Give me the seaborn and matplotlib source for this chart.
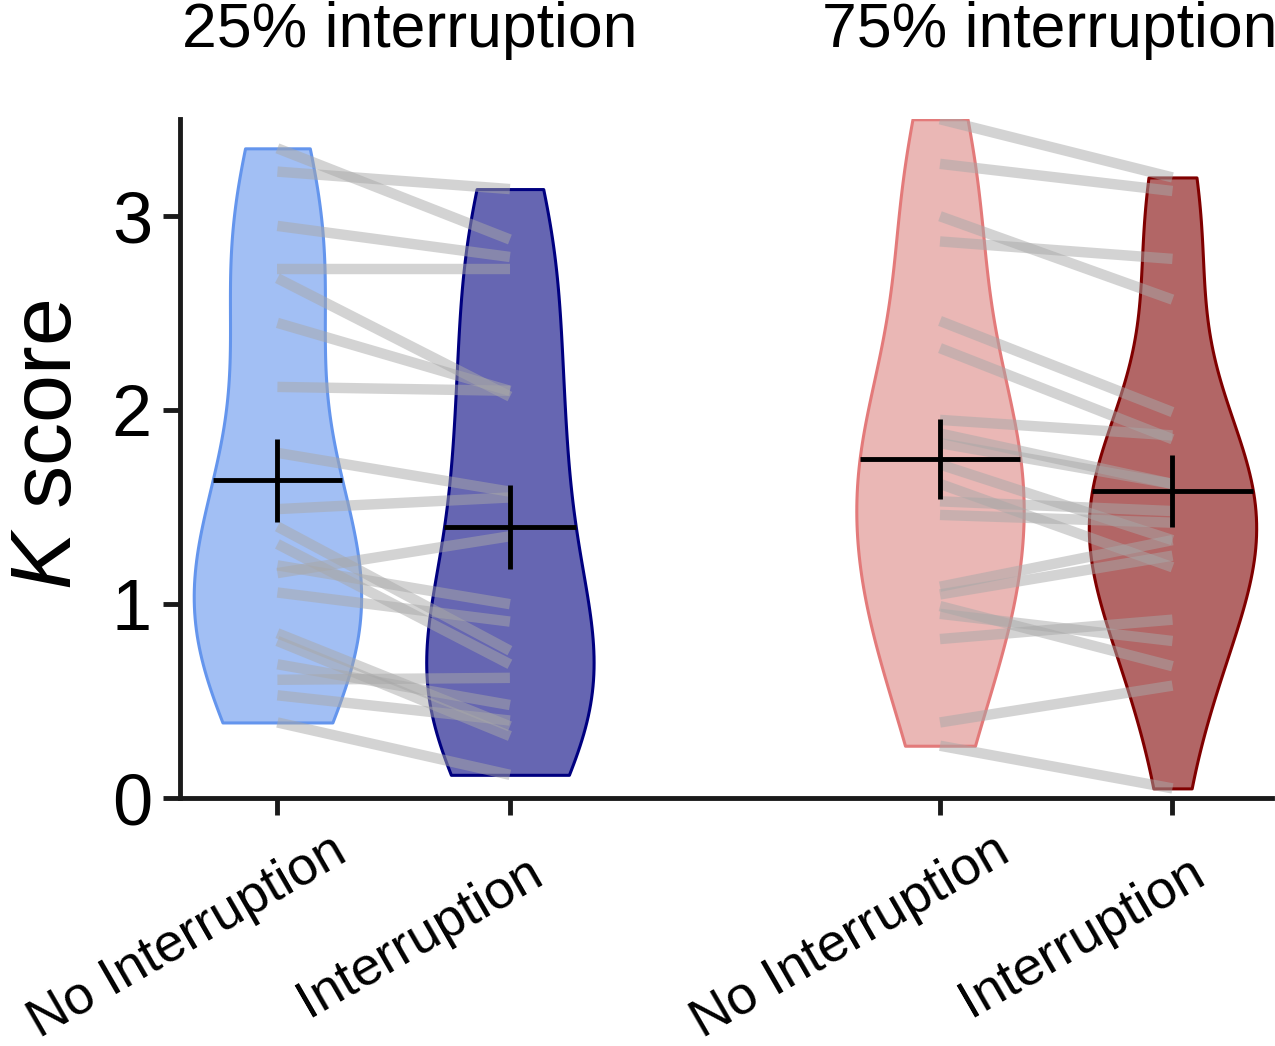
import numpy as np
import pandas as pd
import matplotlib
matplotlib.use("Agg")
import matplotlib.pyplot as plt
import matplotlib.transforms as mtransforms
from matplotlib.colors import to_rgba
import seaborn as sns

# values (K score per participant, paired)
no_int_25 = [3.35, 3.23, 2.95, 2.73, 2.68, 2.45, 2.12, 1.78, 1.49, 1.40,
             1.31, 1.20, 1.16, 1.06, 0.85, 0.81, 0.69, 0.61, 0.53, 0.39]
int_25 = [2.88, 3.14, 2.79, 2.73, 2.07, 2.10, 2.10, 1.58, 1.55, 0.76,
          0.69, 1.00, 1.35, 0.91, 0.37, 0.32, 0.48, 0.62, 0.40, 0.12]
no_int_75 = [3.50, 3.27, 3.00, 2.87, 2.46, 2.32, 1.95, 1.88, 1.83, 1.72,
             1.62, 1.53, 1.46, 1.09, 1.05, 0.99, 0.95, 0.82, 0.39, 0.27]
int_75 = [3.20, 3.13, 2.57, 2.78, 1.99, 1.85, 1.87, 1.62, 1.62, 1.33,
          1.19, 1.48, 1.42, 1.33, 1.25, 0.68, 0.81, 0.92, 0.58, 0.05]

conditions = ["No Interruption", "Interruption", "No Interruption", "Interruption"]
group_titles = ["25% interruption", "75% interruption"]
positions = [0, 1, 2.85, 3.85]
face_colors = ["#6495ED", "#000080", "#DC8785", "#800000"]
edge_colors = ["#6495ED", "#000080", "#E37A7A", "#800000"]

# long-form table
rows = []
for k, vals in enumerate([no_int_25, int_25, no_int_75, int_75]):
    grp = k // 2
    for s, v in enumerate(vals):
        rows.append({"group": grp, "subject": grp * 100 + s,
                     "pos": positions[k], "score": v})
df = pd.DataFrame(rows)

plt.rcParams["font.family"] = ["Liberation Sans", "DejaVu Sans"]
plt.rcParams["mathtext.fontset"] = "custom"
plt.rcParams["mathtext.rm"] = "Liberation Sans"
plt.rcParams["mathtext.it"] = "Liberation Sans:italic"

fig = plt.figure(figsize=(12.75, 10.46), dpi=100)
ax = fig.add_axes([0.141, 0.237, 0.857, 0.649])

# violins, one per condition so each gets its own edge colour
for k, p in enumerate(positions):
    sub = df[df["pos"] == p]
    sns.violinplot(x=sub["pos"], y=sub["score"], native_scale=True, cut=0,
                   inner=None, density_norm="width", width=0.72,
                   color=face_colors[k], linecolor=edge_colors[k],
                   linewidth=2.2, saturation=1, ax=ax)
    coll = ax.collections[-1]
    coll.set_facecolor(to_rgba(face_colors[k], 0.6))
    coll.set_edgecolor(edge_colors[k])

violin_polys = ax.collections[:4]

# paired lines
for g in [0, 1]:
    sns.lineplot(data=df[df["group"] == g], x="pos", y="score", units="subject",
                 estimator=None, sort=False, color="#a8a8a8", alpha=0.5,
                 lw=7.5, solid_capstyle="butt", legend=False, ax=ax, zorder=3)

# mean +/- SEM cross, horizontal bar spans the violin width at the mean
for k, p in enumerate(positions):
    vals = np.asarray(df.loc[df["pos"] == p, "score"])
    m = vals.mean()
    se = vals.std(ddof=1) / np.sqrt(len(vals))
    verts = violin_polys[k].get_paths()[0].vertices
    right = verts[verts[:, 0] > p + 1e-9]
    order = np.argsort(right[:, 1])
    half = np.interp(m, right[order, 1], right[order, 0]) - p
    ax.errorbar(p, m, xerr=half, yerr=se, fmt="none", ecolor="black",
                elinewidth=3.5, capsize=0, zorder=6)

ax.set_xlim(-0.42, 4.28)
ax.set_ylim(0, 3.5)
ax.set_yticks([0, 1, 2, 3])
ax.set_yticklabels(["0", "1", "2", "3"], fontsize=52)
ax.set_xticks(positions)

ax.tick_params(axis="both", length=12, width=3.5, color="#1a1a1a")
ax.tick_params(axis="x", pad=0)
ax.tick_params(axis="y", pad=8)
for side in ["top", "right"]:
    ax.spines[side].set_visible(False)
for side in ["left", "bottom"]:
    ax.spines[side].set_linewidth(3.5)
    ax.spines[side].set_color("#1a1a1a")

ax.set_xticklabels(conditions, fontsize=39, rotation=30, ha="center",
                   va="center", rotation_mode="anchor")
offset = mtransforms.ScaledTranslation(-0.90, -1.22, fig.dpi_scale_trans)
for lab in ax.get_xticklabels():
    lab.set_transform(lab.get_transform() + offset)

ax.set_xlabel("")
ax.set_ylabel(r"$\mathit{K}$ score", fontsize=62)
ax.yaxis.set_label_coords(-0.083, 0.52)

for title, xc in zip(group_titles, [0.57, 3.32]):
    ax.text(xc, 1.13, title, transform=ax.get_xaxis_transform(),
            ha="center", va="center", fontsize=45)

fig.savefig("out.png", dpi=100)
